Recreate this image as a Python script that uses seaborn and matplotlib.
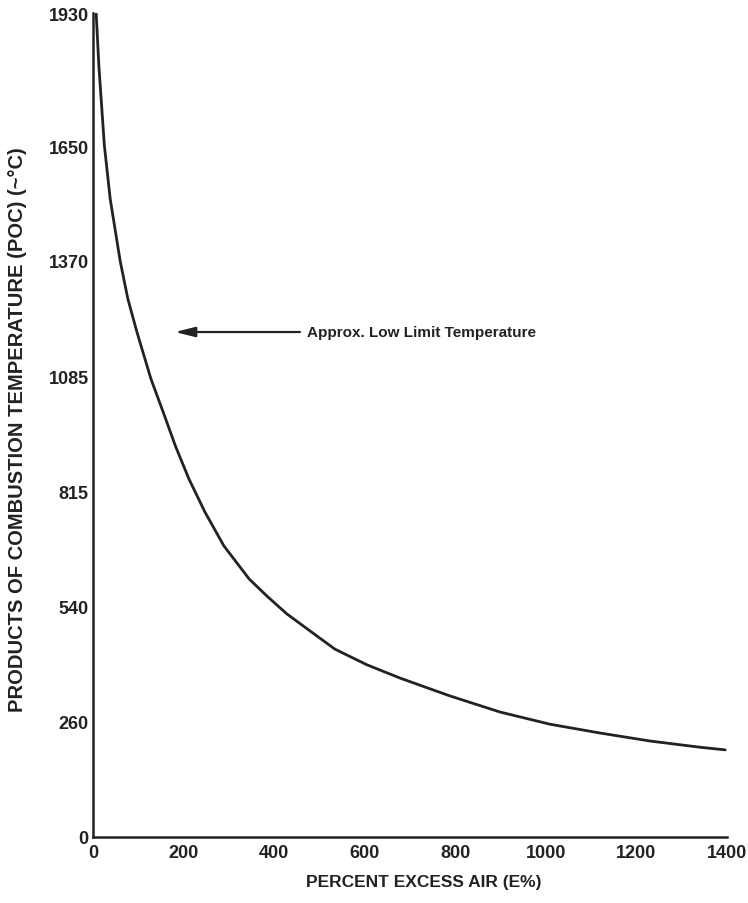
import numpy as np
import pandas as pd
import matplotlib
matplotlib.use("Agg")
import matplotlib.pyplot as plt
import seaborn as sns

# ---- data ----
excess_air = [7, 13, 18, 25, 38, 60, 77, 97, 128, 155, 182, 212, 247, 289,
              345, 384, 428, 479, 534, 605, 678, 788, 899, 1009, 1120, 1230,
              1340, 1396]
temperature_c = [1930, 1818, 1749, 1652, 1521, 1370, 1276, 1194, 1078, 1001,
                 922, 845, 767, 685, 605, 564, 521, 480, 436, 398, 366, 323,
                 284, 255, 235, 217, 203, 197]

y_tick_values = [0, 260, 540, 815, 1085, 1370, 1650, 1930]
y_tick_labels = ["0", "260", "540", "815", "1085", "1370", "1650", "1930"]
x_tick_values = [0, 200, 400, 600, 800, 1000, 1200, 1400]
x_tick_labels = ["0", "200", "400", "600", "800", "1000", "1200", "1400"]

annotation_text = "Approx. Low Limit Temperature"
annotation_temp = 1194
arrow_tip_x = 181
arrow_tail_x = 457
text_x = 472

x_label = "PERCENT EXCESS AIR (E%)"
y_label = "PRODUCTS OF COMBUSTION TEMPERATURE (POC) (~°C)"

# relative positions of the (hand drawn) tick marks on the original axis
y_tick_positions = [0, 115, 231, 345, 461, 576, 691, 824]

sns.set_theme(style="white")
plt.rcParams["font.family"] = ["Liberation Sans Narrow", "Liberation Sans", "DejaVu Sans"]

INK = "#222222"

df = pd.DataFrame({"E": excess_air, "T": temperature_c})

fig = plt.figure(figsize=(7.48, 9.04), dpi=100)
ax = fig.add_axes([93 / 748, 66 / 904, 634 / 748, 824 / 904])


def fwd(v):
    return np.interp(v, y_tick_values, y_tick_positions)


def inv(p):
    return np.interp(p, y_tick_positions, y_tick_values)


ax.set_yscale("function", functions=(fwd, inv))

sns.lineplot(data=df, x="E", y="T", ax=ax, color=INK, linewidth=2.0,
             sort=False, estimator=None)

ax.set_xlim(0, 1400)
ax.set_ylim(0, 1930)
ax.set_xticks(x_tick_values)
ax.set_xticklabels(x_tick_labels)
ax.set_yticks(y_tick_values)
ax.set_yticklabels(y_tick_labels)
ax.minorticks_off()

for s in ["top", "right"]:
    ax.spines[s].set_visible(False)
for s in ["left", "bottom"]:
    ax.spines[s].set_color(INK)
    ax.spines[s].set_linewidth(1.8)

ax.tick_params(axis="x", direction="in", length=12, width=1.6, color=INK,
               pad=5, labelsize=13, labelcolor=INK)
ax.tick_params(axis="y", direction="in", length=9, width=1.6, color=INK,
               pad=3, labelsize=13, labelcolor=INK)
for lab in ax.get_xticklabels() + ax.get_yticklabels():
    lab.set_fontweight("bold")

ax.set_xlabel(x_label, fontsize=12.5, fontweight="bold", color=INK)
ax.xaxis.set_label_coords((424 - 93) / 634, -(875 - 838) / 824)
ax.set_ylabel(y_label, fontsize=14.5, fontweight="bold", color=INK,
              family=["Liberation Sans", "DejaVu Sans"])
ax.yaxis.set_label_coords(-(93 - 27) / 634, (838 - 430) / 824)

ax.annotate("", xy=(arrow_tip_x, annotation_temp), xytext=(arrow_tail_x, annotation_temp),
            arrowprops=dict(arrowstyle="-|>,head_length=1.0,head_width=0.25",
                            color=INK, lw=1.6, shrinkA=0, shrinkB=0))
ax.text(text_x, annotation_temp, annotation_text, fontsize=11,
        fontweight="bold", color=INK, va="center", ha="left",
        family=["Liberation Sans", "DejaVu Sans"])

fig.savefig("out.png", dpi=100, facecolor="white")
